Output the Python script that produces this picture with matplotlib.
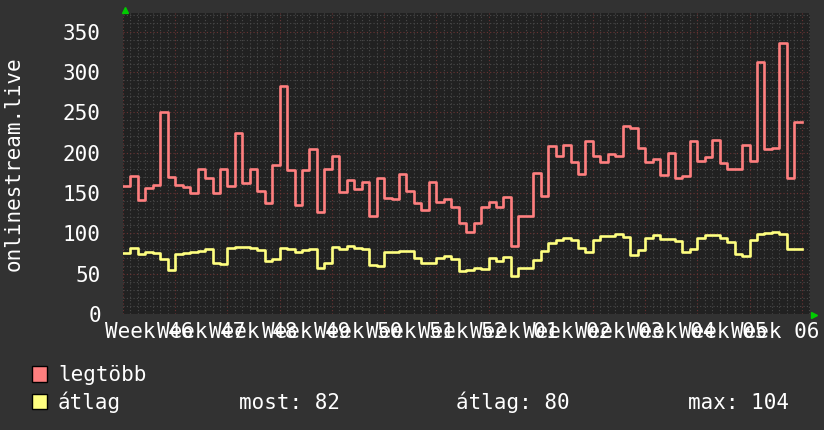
# EXT
import numpy as np
import matplotlib
matplotlib.use("Agg")
import matplotlib.pyplot as plt
from matplotlib.patches import Rectangle
from matplotlib.transforms import blended_transform_factory

# GLOBALS
WEEK_LABELS = ["Week 46", "Week 47", "Week 48", "Week 49", "Week 50", "Week 51", "Week 52",
               "Week 01", "Week 02", "Week 03", "Week 04", "Week 05", "Week 06"]

# daily values, starting on the monday of week 46
LEGTOBB = [158, 171, 141, 156, 160, 250, 170, 160, 157, 150, 180, 169, 150, 180, 158, 224, 162, 180, 153, 138,
           185, 283, 179, 135, 178, 205, 126, 180, 196, 151, 166, 155, 164, 121, 168, 144, 142, 173, 153, 138,
           129, 163, 139, 143, 133, 113, 102, 113, 133, 139, 132, 145, 84, 121, 122, 175, 146, 208, 196, 210,
           188, 174, 215, 196, 188, 198, 196, 233, 231, 206, 188, 192, 172, 200, 169, 171, 214, 190, 195, 216,
           187, 180, 180, 210, 190, 312, 205, 206, 336, 168, 238]
ATLAG = [76, 81.5, 74.4, 77.3, 76, 67.8, 54.6, 74.4, 75.3, 77, 78.6, 80.6, 63, 61.6, 81.5, 83.5, 83.5, 81.5,
         79.4, 65.8, 68.2, 82.3, 80.6, 77.3, 79.4, 80.6, 57.5, 63, 83.5, 80.6, 84.8, 82.3, 80.6, 60.8, 60, 76.5,
         77.3, 78, 78.6, 69.9, 63, 63.7, 69.9, 72.4, 67.8, 53.8, 54, 57.5, 55.5, 70, 66, 71, 47.6, 56.7, 56.7,
         66.6, 78.6, 87.7, 91.8, 94.7, 91.8, 81.5, 77.3, 91.8, 96.8, 96.8, 99.2, 96, 73.2, 79.4, 94.7, 98, 92.6,
         92.6, 90.6, 76.5, 80.6, 93.8, 98, 98, 94.7, 89.7, 74, 72.4, 91.8, 98.8, 100, 102.2, 99.2, 80.2, 80.6]
STATS = ["most: 82", "átlag: 80", "max: 104"]

BG = "#323232"
CANVAS = "#212121"
RED = "#ff7f7f"
YELLOW = "#ffff80"
MONO = "DejaVu Sans Mono"
W, H = 824, 430


def step_line(ax, values, color):
    x = np.arange(len(values) + 1)
    y = list(values) + [values[-1]]
    ax.plot(x, y, drawstyle="steps-post", color=color, lw=1.9, zorder=3)


if __name__ == "__main__":
    fig = plt.figure(figsize=(W / 100, H / 100), dpi=100, facecolor=BG)
    ax = fig.add_axes([123 / W, 1 - 314 / H, 687 / W, 301 / H], facecolor=CANVAS)

    step_line(ax, LEGTOBB, RED)
    step_line(ax, ATLAG, YELLOW)

    ax.set_xlim(0.4, 92.1)
    ax.set_ylim(0, 373)

    # Grid
    ax.set_xticks(np.arange(0, 92, 7))
    ax.set_xticks(np.arange(0, 93, 1), minor=True)
    ax.set_yticks(np.arange(0, 351, 50))
    ax.set_yticks(np.arange(0, 371, 10), minor=True)
    ax.grid(which="minor", color="#4a4a4a", ls=(0, (1, 2)), lw=0.8)
    ax.grid(which="major", color="#6a3434", ls=(0, (1, 2)), lw=0.8)
    ax.set_axisbelow(True)
    for s in ax.spines.values():
        s.set_visible(False)

    ax.tick_params(which="both", length=0)
    ax.set_xticklabels([])
    ax.tick_params(axis="y", pad=16, labelcolor="white", labelsize=15)
    for lab in ax.get_yticklabels():
        lab.set_family(MONO)

    # week labels sit in the middle of each week (they overlap, like the original)
    label_trans = blended_transform_factory(ax.transData, fig.transFigure)
    for i, label in enumerate(WEEK_LABELS):
        ax.text(3.5 + 7 * i, 1 - 338 / H, label, transform=label_trans, ha="center", va="baseline",
                color="white", fontsize=15, family=MONO, clip_on=False)

    # axis arrows
    fig.lines.append(plt.Line2D([125 / W], [1 - 10 / H], marker="^", ms=5, color="#00cc00",
                                transform=fig.transFigure, figure=fig))
    fig.lines.append(plt.Line2D([814 / W], [1 - 315 / H], marker=">", ms=5, color="#00cc00",
                                transform=fig.transFigure, figure=fig))

    fig.text(14 / W, 1 - 163.5 / H, "onlinestream.live", rotation=90, ha="center", va="center",
             color="white", fontsize=15, family=MONO)

    # Legend
    for row, (name, color) in enumerate([("legtöbb", RED), ("átlag", YELLOW)]):
        top = 366 + row * 27.5
        fig.patches.append(Rectangle((32 / W, 1 - (top + 15.5) / H), 15 / W, 15.5 / H, facecolor=color,
                                     edgecolor="black", lw=1, transform=fig.transFigure, figure=fig))
        fig.text(58 / W, 1 - (381 + row * 28) / H, name, va="baseline", color="white", fontsize=15, family=MONO)
    for x, s in zip([239, 456, 688], STATS):
        fig.text(x / W, 1 - 409 / H, s, va="baseline", color="white", fontsize=15, family=MONO)

    fig.savefig("out.png", dpi=100, facecolor=BG)
